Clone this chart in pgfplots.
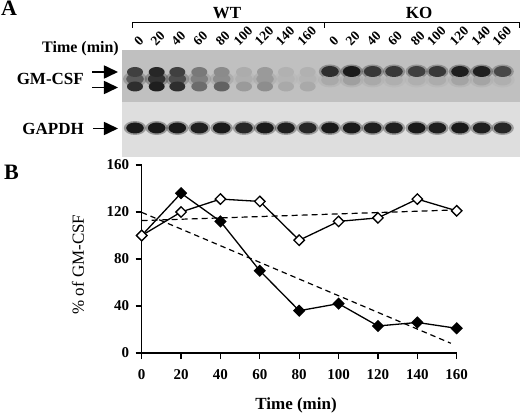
\documentclass[border=0pt]{standalone}
\usepackage{pgfplots}
\pgfplotsset{compat=1.18}
\usepackage{pgfplotstable}
\usepackage{fontspec}
\setmainfont{Liberation Serif}
\usetikzlibrary{arrows.meta}

\pgfdeclareplotmark{band}{%
  \pgfpathellipse{\pgfpointorigin}{\pgfqpoint{1.6\pgfplotmarksize}{0pt}}{\pgfqpoint{0pt}{\pgfplotmarksize}}%
  \pgfusepathqfill}

% gel band tables: x = lane position, y = band position, g = gray level (0 black, 1 white)
\pgfplotstableread{
x y g
135 79 0.35
156.7 79 0.20
177.3 79 0.30
199.3 79 0.50
221.7 79 0.55
244 79 0.68
265 79 0.60
286 79 0.70
307.7 79 0.70
}\wtmid
\pgfplotstableread{
x y g
135 72 0.25
156.7 72 0.15
177.3 72 0.25
199.3 72 0.47
221.7 72 0.54
244 72 0.67
265 72 0.60
286 72 0.69
307.7 72 0.69
}\wtup
\pgfplotstableread{
x y g
135 86.5 0.18
156.7 86.5 0.12
177.3 86.5 0.18
199.3 86.5 0.42
221.7 86.5 0.38
244 86.5 0.60
265 86.5 0.55
286 86.5 0.66
307.7 86.5 0.66
}\wtlow
\pgfplotstableread{
x y g
330 80 0.66
351.7 80 0.62
372.7 80 0.66
394 80 0.68
416.7 80 0.68
437.3 80 0.67
460 80 0.64
481.7 80 0.64
502.7 80 0.68
}\kosmear
\pgfplotstableread{
x y g
330 71.5 0.18
351.7 71.5 0.10
372.7 71.5 0.22
394 71.5 0.22
416.7 71.5 0.25
437.3 71.5 0.22
460 71.5 0.12
481.7 71.5 0.12
502.7 71.5 0.28
}\koband
\pgfplotstableread{
x y g
135 128 0.10
156.7 128 0.10
177.3 128 0.10
199.3 128 0.12
221.7 128 0.10
244 128 0.15
265 128 0.10
286 128 0.12
307.7 128 0.15
330 128 0.10
351.7 128 0.10
372.7 128 0.12
394 128 0.12
416.7 128 0.10
437.3 128 0.12
460 128 0.10
481.7 128 0.12
502.7 128 0.15
}\gapdh

\begin{document}
\begin{tikzpicture}
\useasboundingbox (0,0) rectangle (520bp,414bp);

% ---------------- Panel A (gel) ----------------
\begin{axis}[
  at={(0bp,0bp)}, anchor=south west,
  scale only axis, width=520bp, height=414bp,
  xmin=0, xmax=520, ymin=0, ymax=414, y dir=reverse,
  hide axis, clip=false,
  colormap={gelgray}{gray(0cm)=(0); gray(1cm)=(1)},
  point meta min=0, point meta max=1,
]
% gel backgrounds
\addplot[fill={rgb,255:red,192;green,192;blue,192}, draw=none] coordinates {(122,50) (520,50) (520,102) (122,102)} -- cycle;
\addplot[fill={rgb,255:red,222;green,222;blue,222}, draw=none] coordinates {(122,102) (520,102) (520,157) (122,157)} -- cycle;

% halos
\addplot[scatter, only marks, mark=band, mark size=7.5bp, point meta=explicit,
  scatter/use mapped color={fill=mapped color, fill opacity=0.35}] table[x=x,y=y,meta=g] {\wtmid};
\addplot[scatter, only marks, mark=band, mark size=7.5bp, point meta=explicit,
  scatter/use mapped color={fill=mapped color, fill opacity=0.35}] table[x=x,y=y,meta=g] {\kosmear};
\addplot[scatter, only marks, mark=band, mark size=7bp, point meta=explicit,
  scatter/use mapped color={fill=mapped color, fill opacity=0.35}] table[x=x,y=y,meta=g] {\koband};
\addplot[scatter, only marks, mark=band, mark size=7bp, point meta=explicit,
  scatter/use mapped color={fill=mapped color, fill opacity=0.35}] table[x=x,y=y,meta=g] {\gapdh};

% cores
\addplot[scatter, only marks, mark=band, mark size=5.5bp, point meta=explicit,
  scatter/use mapped color={fill=mapped color}] table[x=x,y=y,meta=g] {\wtmid};
\addplot[scatter, only marks, mark=band, mark size=5bp, point meta=explicit,
  scatter/use mapped color={fill=mapped color}] table[x=x,y=y,meta=g] {\wtup};
\addplot[scatter, only marks, mark=band, mark size=5bp, point meta=explicit,
  scatter/use mapped color={fill=mapped color}] table[x=x,y=y,meta=g] {\wtlow};
\addplot[scatter, only marks, mark=band, mark size=5.5bp, point meta=explicit,
  scatter/use mapped color={fill=mapped color}] table[x=x,y=y,meta=g] {\kosmear};
\addplot[scatter, only marks, mark=band, mark size=5.5bp, point meta=explicit,
  scatter/use mapped color={fill=mapped color}] table[x=x,y=y,meta=g] {\koband};
\addplot[scatter, only marks, mark=band, mark size=5.5bp, point meta=explicit,
  scatter/use mapped color={fill=mapped color}] table[x=x,y=y,meta=g] {\gapdh};

% brackets
\addplot[black, line width=1bp] coordinates {(132,28) (132,22.5) (519.5,22.5) (519.5,28)};
\addplot[black, line width=1bp] coordinates {(324.5,22.5) (324.5,28)};

% arrows
\addplot[black, line width=1.6bp, -{Triangle[length=14bp,width=13bp]}] coordinates {(92,72) (118,72)};
\addplot[black, line width=1.6bp, -{Triangle[length=14bp,width=13bp]}] coordinates {(92,87.5) (118,87.5)};
\addplot[black, line width=1.6bp, -{Triangle[length=14bp,width=13bp]}] coordinates {(93,128.5) (118,128.5)};

% texts
\node[font=\fontsize{22bp}{24bp}\selectfont\bfseries, inner sep=0] at (axis cs:9,8.5) {A};
\node[font=\fontsize{17bp}{20bp}\selectfont\bfseries, inner sep=0] at (axis cs:227,13) {WT};
\node[font=\fontsize{17bp}{20bp}\selectfont\bfseries, inner sep=0] at (axis cs:419,13) {KO};
\node[font=\fontsize{16bp}{19bp}\selectfont\bfseries, inner sep=0, anchor=east] at (axis cs:119,49) {Time (min)};
\node[font=\fontsize{17bp}{20bp}\selectfont\bfseries, inner sep=0, anchor=east] at (axis cs:84,79) {GM-CSF};
\node[font=\fontsize{17bp}{20bp}\selectfont\bfseries, inner sep=0, anchor=east] at (axis cs:84,128.5) {GAPDH};

\tikzset{lane/.style={font=\fontsize{13.5bp}{16bp}\selectfont\bfseries, inner sep=0, anchor=base west, rotate=45}}
\node[lane] at (axis cs:139.5,46.5) {0};
\node[lane] at (axis cs:156,46.5) {20};
\node[lane] at (axis cs:176.6,46.5) {40};
\node[lane] at (axis cs:198.6,46.5) {60};
\node[lane] at (axis cs:221,46.5) {80};
\node[lane] at (axis cs:239,46.5) {100};
\node[lane] at (axis cs:260,46.5) {120};
\node[lane] at (axis cs:281,46.5) {140};
\node[lane] at (axis cs:302.7,46.5) {160};
\node[lane] at (axis cs:334.5,46.5) {0};
\node[lane] at (axis cs:351,46.5) {20};
\node[lane] at (axis cs:372,46.5) {40};
\node[lane] at (axis cs:393.3,46.5) {60};
\node[lane] at (axis cs:416,46.5) {80};
\node[lane] at (axis cs:432.3,46.5) {100};
\node[lane] at (axis cs:455,46.5) {120};
\node[lane] at (axis cs:476.7,46.5) {140};
\node[lane] at (axis cs:497.7,46.5) {160};
\node[font=\fontsize{22bp}{24bp}\selectfont\bfseries, inner sep=0] at (axis cs:11.5,172.5) {B};
\end{axis}

% ---------------- Panel B (line chart) ----------------
\begin{axis}[
  at={(141.7bp,61bp)}, anchor=south west,
  scale only axis, width=315bp, height=188bp,
  xmin=0, xmax=160, ymin=0, ymax=160,
  axis x line*=bottom, axis y line*=left,
  axis line style={line width=1.2bp, -},
  xtick={0,20,...,160}, ytick={0,40,...,160},
  tick align=outside, major tick length=6bp,
  tick style={line width=1.2bp, black},
  /pgf/number format/assume math mode=true,
  ticklabel style={font=\fontsize{15bp}{18bp}\selectfont\bfseries},
  xticklabel style={yshift=-7bp},
  yticklabel style={xshift=-3bp},
  clip=false,
]
\addplot[black, line width=1.2bp, dash pattern=on 5.5bp off 4bp] coordinates {(0,119.7) (157,8.3)};
\addplot[black, line width=1.2bp, dash pattern=on 6bp off 4bp] coordinates {(0,112.7) (160,121.8)};
\addplot[black, line width=1.3bp, mark=square*, mark size=3.7bp, mark options={rotate=45, fill=black, solid}]
  coordinates {(0,100) (20,136) (40,112) (60,70) (80,36) (100,42) (120,23) (140,26) (160,21)};
\addplot[black, line width=1.3bp, mark=square*, mark size=3.7bp, mark options={rotate=45, fill=white, solid}]
  coordinates {(0,100) (20,120) (40,131) (60,129) (80,96) (100,112) (120,115) (140,131) (160,121)};
\node[font=\fontsize{17bp}{20bp}\selectfont\bfseries, inner sep=0] at (axis description cs:0.49,-0.277) {Time (min)};
\node[font=\fontsize{17bp}{20bp}\selectfont, inner sep=0, rotate=90] at (axis description cs:-0.202,0.47) {\% of GM-CSF};
\end{axis}
\end{tikzpicture}
\end{document}
